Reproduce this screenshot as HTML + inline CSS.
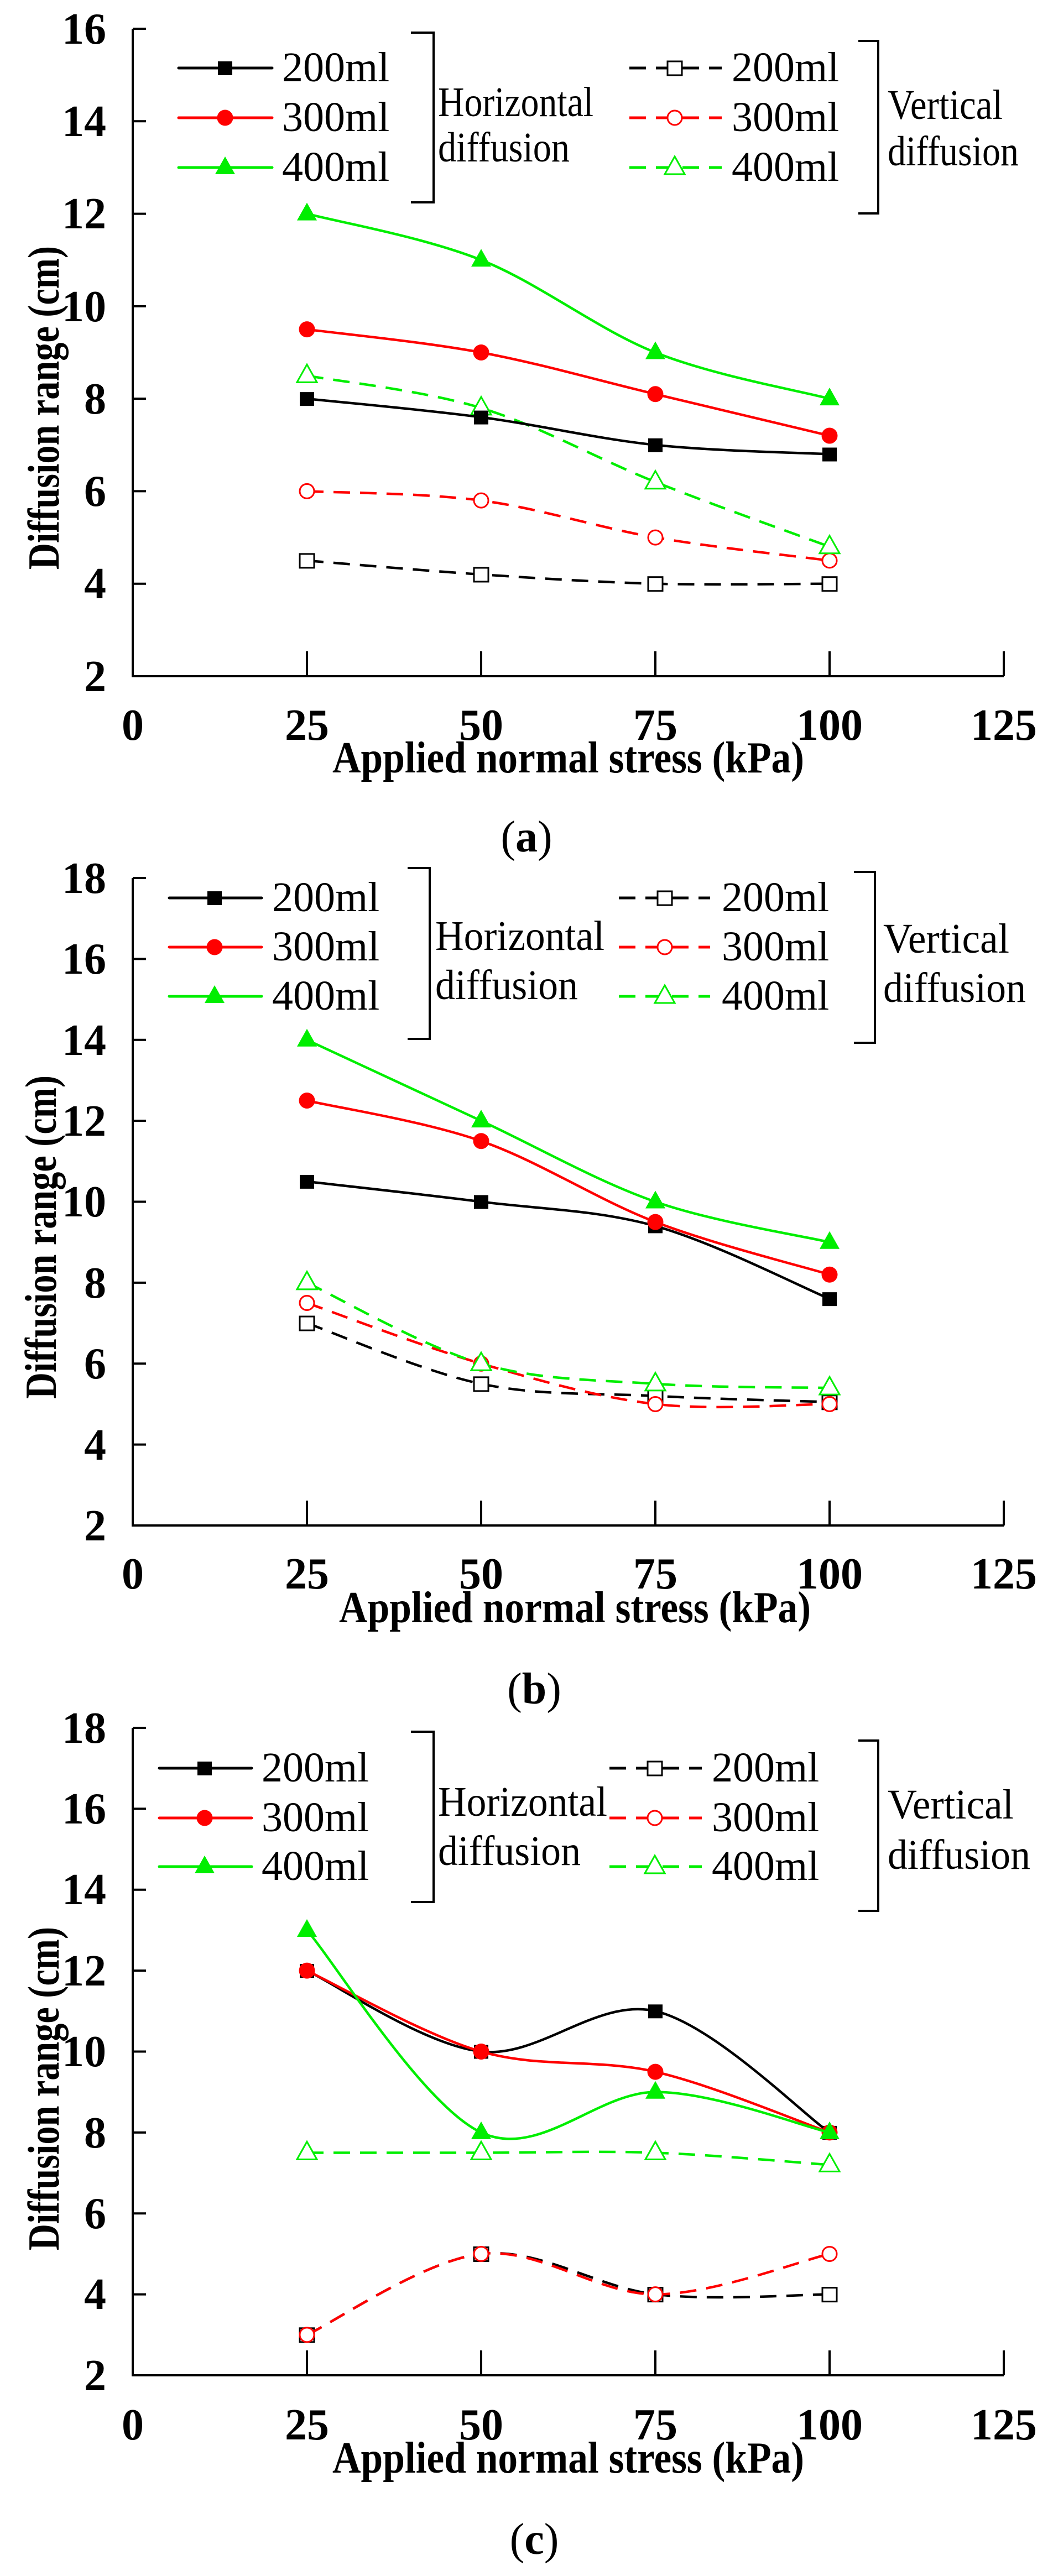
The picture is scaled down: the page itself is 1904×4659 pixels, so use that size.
<!DOCTYPE html>
<html><head><meta charset="utf-8"><style>
html,body{margin:0;padding:0;background:#fff;}
svg{display:block;}
svg text, svg tspan{font-family:"Liberation Serif","Times New Roman",serif !important;fill:#000;}
.t{font-size:80px;font-weight:bold;text-anchor:middle;}
.lg{font-size:76px;}
.ti{font-size:80px;font-weight:bold;}
</style></head><body>
<svg id="s" width="1904" height="4659" viewBox="0 0 1904 4659" xmlns="http://www.w3.org/2000/svg" font-family="Liberation Serif, serif">
<g>
<text class="t" x="192" y="79" style="text-anchor:end">16</text>
<text class="t" x="192" y="246" style="text-anchor:end">14</text>
<text class="t" x="192" y="413" style="text-anchor:end">12</text>
<text class="t" x="192" y="581" style="text-anchor:end">10</text>
<text class="t" x="192" y="748" style="text-anchor:end">8</text>
<text class="t" x="192" y="915" style="text-anchor:end">6</text>
<text class="t" x="192" y="1082" style="text-anchor:end">4</text>
<text class="t" x="192" y="1250" style="text-anchor:end">2</text>
<text class="t" x="240" y="1338">0</text><text class="t" x="555" y="1338">25</text><text class="t" x="870" y="1338">50</text><text class="t" x="1185" y="1338">75</text><text class="t" x="1500" y="1338">100</text><text class="t" x="1815" y="1338">125</text>
<text class="ti" x="601" y="1397" textLength="853" lengthAdjust="spacingAndGlyphs">Applied normal stress (kPa)</text>
<text class="ti" transform="translate(106,1030) rotate(-90)" textLength="585" lengthAdjust="spacingAndGlyphs">Diffusion range (cm)</text>
<text x="952" y="1540" style="font-size:80px;text-anchor:middle">(<tspan font-weight="bold">a</tspan>)</text>
<text class="lg" x="510" y="147">200ml</text><text class="lg" x="510" y="237">300ml</text><text class="lg" x="510" y="327">400ml</text>
<text class="lg" x="1323" y="147">200ml</text><text class="lg" x="1323" y="237">300ml</text><text class="lg" x="1323" y="327">400ml</text>
<text class="lg" x="792" y="210" textLength="281" lengthAdjust="spacingAndGlyphs">Horizontal</text>
<text class="lg" x="792" y="292" textLength="238" lengthAdjust="spacingAndGlyphs">diffusion</text>
<text class="lg" x="1605" y="215" textLength="208" lengthAdjust="spacingAndGlyphs">Vertical</text>
<text class="lg" x="1605" y="299" textLength="237" lengthAdjust="spacingAndGlyphs">diffusion</text>
</g>
<g>
<text class="t" x="192" y="1615" style="text-anchor:end">18</text>
<text class="t" x="192" y="1761" style="text-anchor:end">16</text>
<text class="t" x="192" y="1908" style="text-anchor:end">14</text>
<text class="t" x="192" y="2054" style="text-anchor:end">12</text>
<text class="t" x="192" y="2200" style="text-anchor:end">10</text>
<text class="t" x="192" y="2347" style="text-anchor:end">8</text>
<text class="t" x="192" y="2493" style="text-anchor:end">6</text>
<text class="t" x="192" y="2640" style="text-anchor:end">4</text>
<text class="t" x="192" y="2786" style="text-anchor:end">2</text>
<text class="t" x="240" y="2873">0</text><text class="t" x="555" y="2873">25</text><text class="t" x="870" y="2873">50</text><text class="t" x="1185" y="2873">75</text><text class="t" x="1500" y="2873">100</text><text class="t" x="1815" y="2873">125</text>
<text class="ti" x="613" y="2934" textLength="853" lengthAdjust="spacingAndGlyphs">Applied normal stress (kPa)</text>
<text class="ti" transform="translate(101,2530) rotate(-90)" textLength="585" lengthAdjust="spacingAndGlyphs">Diffusion range (cm)</text>
<text x="966" y="3081" style="font-size:80px;text-anchor:middle">(<tspan font-weight="bold">b</tspan>)</text>
<text class="lg" x="492" y="1648">200ml</text><text class="lg" x="492" y="1737">300ml</text><text class="lg" x="492" y="1826">400ml</text>
<text class="lg" x="1305" y="1648">200ml</text><text class="lg" x="1305" y="1737">300ml</text><text class="lg" x="1305" y="1826">400ml</text>
<text class="lg" x="787" y="1718" textLength="306" lengthAdjust="spacingAndGlyphs">Horizontal</text>
<text class="lg" x="787" y="1807" textLength="258" lengthAdjust="spacingAndGlyphs">diffusion</text>
<text class="lg" x="1597" y="1723" textLength="228" lengthAdjust="spacingAndGlyphs">Vertical</text>
<text class="lg" x="1597" y="1812" textLength="258" lengthAdjust="spacingAndGlyphs">diffusion</text>
</g>
<g>
<text class="t" x="192" y="3152" style="text-anchor:end">18</text>
<text class="t" x="192" y="3298" style="text-anchor:end">16</text>
<text class="t" x="192" y="3444" style="text-anchor:end">14</text>
<text class="t" x="192" y="3591" style="text-anchor:end">12</text>
<text class="t" x="192" y="3737" style="text-anchor:end">10</text>
<text class="t" x="192" y="3884" style="text-anchor:end">8</text>
<text class="t" x="192" y="4030" style="text-anchor:end">6</text>
<text class="t" x="192" y="4176" style="text-anchor:end">4</text>
<text class="t" x="192" y="4323" style="text-anchor:end">2</text>
<text class="t" x="240" y="4412">0</text><text class="t" x="555" y="4412">25</text><text class="t" x="870" y="4412">50</text><text class="t" x="1185" y="4412">75</text><text class="t" x="1500" y="4412">100</text><text class="t" x="1815" y="4412">125</text>
<text class="ti" x="601" y="4472" textLength="853" lengthAdjust="spacingAndGlyphs">Applied normal stress (kPa)</text>
<text class="ti" transform="translate(106,4070) rotate(-90)" textLength="585" lengthAdjust="spacingAndGlyphs">Diffusion range (cm)</text>
<text x="966" y="4619" style="font-size:80px;text-anchor:middle">(<tspan font-weight="bold">c</tspan>)</text>
<text class="lg" x="473" y="3222">200ml</text><text class="lg" x="473" y="3312">300ml</text><text class="lg" x="473" y="3400">400ml</text>
<text class="lg" x="1287" y="3222">200ml</text><text class="lg" x="1287" y="3312">300ml</text><text class="lg" x="1287" y="3400">400ml</text>
<text class="lg" x="792" y="3284" textLength="306" lengthAdjust="spacingAndGlyphs">Horizontal</text>
<text class="lg" x="792" y="3373" textLength="258" lengthAdjust="spacingAndGlyphs">diffusion</text>
<text class="lg" x="1605" y="3289" textLength="228" lengthAdjust="spacingAndGlyphs">Vertical</text>
<text class="lg" x="1605" y="3380" textLength="258" lengthAdjust="spacingAndGlyphs">diffusion</text>
</g>
<g id="g"></g>
</svg>
<script>
(function(){
var g=document.getElementById('g'),out='';
var C={k:'#000',r:'#ff0000',g:'#00ee00'};
function X(v){return 240+v*12.6;}
function path(pts){
 var d='M'+pts[0][0]+','+pts[0][1];
 for(var i=0;i<pts.length-1;i++){
  var p0=pts[i>0?i-1:i],p1=pts[i],p2=pts[i+1],p3=pts[i+2<pts.length?i+2:i+1];
  var c1x=p1[0]+(p2[0]-p0[0])/6,c1y=p1[1]+(p2[1]-p0[1])/6;
  var c2x=p2[0]-(p3[0]-p1[0])/6,c2y=p2[1]-(p3[1]-p1[1])/6;
  d+=' C'+c1x+','+c1y+' '+c2x+','+c2y+' '+p2[0]+','+p2[1];
 }
 return d;
}
function marker(t,x,y,col,fill){
 var f=fill?col:'#fff';
 if(t=='s')return '<rect x="'+(x-13)+'" y="'+(y-12)+'" width="26" height="25" fill="'+f+'" stroke="'+col+'" stroke-width="'+(fill?0:3)+'"/>';
 if(t=='c')return '<circle cx="'+x+'" cy="'+y+'" r="'+(fill?14.5:13)+'" fill="'+f+'" stroke="'+col+'" stroke-width="'+(fill?0:3)+'"/>';
 return '<polygon points="'+x+','+(y-20)+' '+(x+18)+','+(y+12)+' '+(x-18)+','+(y+12)+'" fill="'+f+'" stroke="'+col+'" stroke-width="'+(fill?0:3)+'"/>';
}
var panels=[
 {top:52,bot:1223,ymax:16,ymin:2,leg:[123,213,303],l1:[323,492,407],l2:[1138,1305,1220],b1:[784,743,59,366],b2:[1588,1552,74,386],
  d:{H:[[8,7.6,7,6.8],[9.5,9,8.1,7.2],[12,11,9,8]],V:[[4.5,4.2,4,4],[6,5.8,5,4.5],[8.5,7.8,6.2,4.8]]}},
 {top:1588,bot:2759,ymax:18,ymin:2,leg:[1624,1713,1802],l1:[306,473,388],l2:[1119,1284,1202],b1:[777,737,1570,1879],b2:[1582,1544,1577,1886],
  d:{H:[[10.5,10,9.4,7.6],[12.5,11.5,9.5,8.2],[14,12,10,9]],V:[[7,5.5,5.2,5.05],[7.5,6,5,5],[8,6,5.5,5.4]]}},
 {top:3125,bot:4296,ymax:18,ymin:2,leg:[3198,3288,3376],l1:[288,455,370],l2:[1102,1269,1184],b1:[784,743,3132,3440],b2:[1588,1552,3148,3456],
  d:{H:[[12,10,11,8],[12,10,9.5,8],[13,8,9,8]],V:[[3,5,4,4],[3,5,4,5],[7.5,7.5,7.5,7.2]]}}
];
var cols=['k','r','g'],mk=['s','c','t'];
panels.forEach(function(P){
 var Y=function(v){return P.bot-(v-P.ymin)*(P.bot-P.top)/(P.ymax-P.ymin);};
 out+='<path d="M240,'+P.top+' V'+P.bot+' H1815" fill="none" stroke="#000" stroke-width="4"/>';
 for(var v=P.ymin;v<=P.ymax;v+=2){out+='<line x1="240" y1="'+Y(v)+'" x2="264" y2="'+Y(v)+'" stroke="#000" stroke-width="4"/>';}
 [25,50,75,100,125].forEach(function(v){out+='<line x1="'+X(v)+'" y1="'+P.bot+'" x2="'+X(v)+'" y2="'+(P.bot-45)+'" stroke="#000" stroke-width="4"/>';});
 [P.b1,P.b2].forEach(function(b){out+='<path d="M'+b[1]+','+b[2]+' H'+b[0]+' V'+b[3]+' H'+b[1]+'" fill="none" stroke="#000" stroke-width="4"/>';});
 ['V','H'].forEach(function(k){
  for(var i=0;i<3;i++){
   var pts=P.d[k][i].map(function(v,j){return [X(25*(j+1)),Y(v)];});
   var col=C[cols[i]];
   out+='<path d="'+path(pts)+'" fill="none" stroke="'+col+'" stroke-width="4.5"'+(k=='V'?' stroke-dasharray="30 18"':'')+'/>';
   pts.forEach(function(p){out+=marker(mk[i],p[0],p[1],col,k=='H');});
   var L=k=='H'?P.l1:P.l2,y=P.leg[i];
   out+='<line x1="'+L[0]+'" y1="'+y+'" x2="'+L[1]+'" y2="'+y+'" stroke="'+col+'" stroke-width="5"'+(k=='V'?' stroke-dasharray="30 18"':' stroke-linecap="round"')+'/>';
   out+=marker(mk[i],L[2],y,col,k=='H');
  }
 });
});
g.innerHTML=out;
})();
</script>
</body></html>
